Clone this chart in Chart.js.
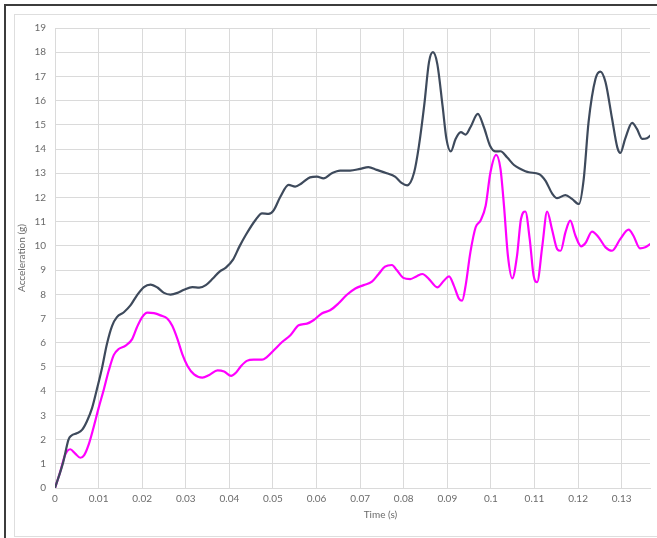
<!DOCTYPE html>
<html lang="en">
<head>
    <meta charset="UTF-8">
    <title>Acceleration vs Time</title>
    <script src="https://cdn.jsdelivr.net/npm/chart.js"></script>
    <style>
        body { margin: 0; background: #fff; }
        #wrap { position: relative; width: 657px; height: 538px; overflow: hidden; }
        #outer { position: absolute; left: 4px; top: 4px; width: 700px; height: 600px;
                 border-left: 2px solid #3c3c3c; border-top: 2px solid #3c3c3c; }
        #inner { position: absolute; left: 14px; top: 14px; width: 700px; height: 521px;
                 border-left: 1px solid #dedede; border-top: 1px solid #dedede; border-bottom: 1px solid #dedede; }
        canvas { position: absolute; left: 0; top: 0; }
    </style>
</head>
<body>
<div id="wrap">
    <div id="outer"></div>
    <div id="inner"></div>
    <canvas id="accChart" width="657" height="538"></canvas>
</div>
<script>
    // dark series (time in s, acceleration in g)
    const darkTime = [0, 0.0019, 0.0031, 0.0038, 0.005, 0.0062, 0.0073, 0.0085, 0.0096, 0.0108,
        0.0119, 0.0131, 0.0142, 0.0158, 0.0173, 0.0188, 0.0204, 0.0219, 0.0235, 0.025,
        0.0265, 0.0281, 0.0296, 0.0315, 0.0331, 0.0346, 0.0362, 0.0377, 0.0392, 0.0408,
        0.0423, 0.0438, 0.046, 0.0475, 0.049, 0.0502, 0.0517, 0.0536, 0.0551, 0.0566,
        0.0585, 0.0601, 0.0616, 0.0635, 0.0654, 0.0677, 0.07, 0.0719, 0.0738, 0.0761,
        0.078, 0.0795, 0.0808, 0.0824, 0.0835, 0.0847, 0.0858, 0.0867, 0.0877, 0.0889,
        0.0898, 0.0908, 0.0919, 0.0931, 0.0942, 0.0953, 0.097, 0.0984, 0.0998, 0.1011,
        0.1022, 0.1037, 0.1053, 0.1068, 0.1087, 0.111, 0.1125, 0.1141, 0.1152, 0.1171,
        0.1186, 0.1202, 0.1213, 0.1224, 0.124, 0.1251, 0.1263, 0.1278, 0.129, 0.1297,
        0.1308, 0.1324, 0.1335, 0.1347, 0.1358, 0.1366];
    const darkAccel = [0, 1.08, 2.0, 2.17, 2.26, 2.4, 2.75, 3.3, 4.07, 4.97,
        5.94, 6.7, 7.06, 7.26, 7.54, 7.96, 8.3, 8.4, 8.28, 8.06,
        7.99, 8.06, 8.19, 8.3, 8.28, 8.38, 8.65, 8.93, 9.1, 9.42,
        9.97, 10.46, 11.07, 11.34, 11.32, 11.48, 12.03, 12.52, 12.45, 12.59,
        12.83, 12.86, 12.79, 13.0, 13.11, 13.11, 13.18, 13.25, 13.14, 13.0,
        12.86, 12.6, 12.5, 13.04, 14.14, 15.8, 17.59, 18.0, 17.52, 15.8,
        14.42, 13.9, 14.42, 14.7, 14.6, 14.9, 15.45, 14.9, 14.14, 13.9,
        13.91, 13.66, 13.34, 13.18, 13.04, 12.97, 12.7, 12.15, 11.97, 12.1,
        11.94, 11.73, 12.77, 15.1, 16.9, 17.2, 16.76, 15.25, 14.07, 13.84,
        14.42, 15.08, 14.83, 14.42, 14.45, 14.56];

    // magenta series
    const pinkTime = [0, 0.0012, 0.0023, 0.0035, 0.0046, 0.0058, 0.0067, 0.0077, 0.0088, 0.01,
        0.0112, 0.0123, 0.0135, 0.0146, 0.0162, 0.0177, 0.0188, 0.02, 0.0212, 0.0227,
        0.0242, 0.0258, 0.0269, 0.0281, 0.0292, 0.0304, 0.0319, 0.0338, 0.0354, 0.0373,
        0.0388, 0.0404, 0.0415, 0.0427, 0.044, 0.0456, 0.0475, 0.0486, 0.0502, 0.0521,
        0.054, 0.0559, 0.0578, 0.0593, 0.0612, 0.0631, 0.065, 0.0669, 0.0689, 0.0708,
        0.0727, 0.0742, 0.0757, 0.0773, 0.0784, 0.0799, 0.0815, 0.083, 0.0843, 0.0858,
        0.0877, 0.0892, 0.0904, 0.0915, 0.0927, 0.0934, 0.0942, 0.0953, 0.0965, 0.0976,
        0.0988, 0.0999, 0.1012, 0.1022, 0.103, 0.1039, 0.1049, 0.106, 0.1069, 0.1079,
        0.1089, 0.1098, 0.1106, 0.1118, 0.1129, 0.114, 0.1152, 0.116, 0.1171, 0.1182,
        0.1194, 0.1207, 0.1217, 0.1232, 0.1247, 0.1263, 0.1278, 0.1297, 0.1316, 0.1327,
        0.1342, 0.1354, 0.1366];
    const pinkAccel = [0, 0.67, 1.36, 1.6, 1.43, 1.25, 1.36, 1.78, 2.47, 3.3,
        4.07, 4.83, 5.5, 5.74, 5.88, 6.15, 6.64, 7.06, 7.24, 7.22,
        7.13, 6.99, 6.7, 6.15, 5.53, 5.04, 4.69, 4.56, 4.67, 4.86,
        4.81, 4.63, 4.76, 5.04, 5.25, 5.3, 5.3, 5.41, 5.69, 6.03,
        6.31, 6.72, 6.79, 6.93, 7.21, 7.34, 7.62, 7.97, 8.24, 8.38,
        8.52, 8.83, 9.14, 9.21, 9.0, 8.68, 8.63, 8.75, 8.84, 8.63,
        8.29, 8.56, 8.74, 8.36, 7.81, 7.74, 8.36, 9.74, 10.77, 11.04,
        11.66, 13.04, 13.76, 13.18, 11.66, 9.6, 8.66, 9.6, 11.11, 11.42,
        10.29, 8.77, 8.5, 10.0, 11.42, 10.7, 9.87, 9.8, 10.56, 11.04,
        10.42, 9.98, 10.12, 10.59, 10.36, 9.94, 9.8, 10.29, 10.67, 10.42,
        9.9, 9.94, 10.08];

    const xTickValues = [0, 0.01, 0.02, 0.03, 0.04, 0.05, 0.06, 0.07, 0.08, 0.09, 0.1, 0.11, 0.12, 0.13];
    const xTitle = 'Time (s)';
    const yTitle = 'Acceleration (g)';

    const toPoints = (xs, ys) => xs.map((x, i) => ({ x: x, y: ys[i] }));
    const textColor = '#6b6b6b';
    const gridColor = '#dadada';
    const font = { family: 'Lato', size: 10 };

    // x axis title sits a little right of the plot centre, like the original
    const xTitlePlugin = {
        id: 'xTitlePlugin',
        afterDraw(chart) {
            const c = chart.ctx;
            const area = chart.chartArea;
            c.save();
            c.font = '10px Lato';
            c.fillStyle = textColor;
            c.textAlign = 'center';
            c.textBaseline = 'middle';
            c.fillText(xTitle, area.left + (area.right - area.left) * 0.547, 515);
            c.restore();
        }
    };

    new Chart(document.getElementById('accChart'), {
        type: 'line',
        data: {
            datasets: [
                {
                    label: 'Dark',
                    data: toPoints(darkTime, darkAccel),
                    borderColor: '#3e4a5c',
                    borderWidth: 2.2,
                    pointRadius: 0,
                    cubicInterpolationMode: 'monotone'
                },
                {
                    label: 'Magenta',
                    data: toPoints(pinkTime, pinkAccel),
                    borderColor: '#ff00ff',
                    borderWidth: 2.2,
                    pointRadius: 0,
                    cubicInterpolationMode: 'monotone'
                }
            ]
        },
        options: {
            responsive: false,
            animation: false,
            devicePixelRatio: 1,
            layout: { padding: { left: 14, top: 28, right: 7, bottom: 2 } },
            plugins: {
                legend: { display: false },
                tooltip: { enabled: false }
            },
            scales: {
                x: {
                    type: 'linear',
                    min: 0,
                    max: 0.1365,
                    afterBuildTicks: scale => {
                        scale.ticks = xTickValues.map(v => ({ value: v }));
                    },
                    afterFit: scale => { scale.height = 48; },
                    ticks: {
                        color: textColor,
                        font: font,
                        padding: 5,
                        maxRotation: 0,
                        autoSkip: false,
                        callback: v => String(+v.toFixed(2))
                    },
                    grid: { color: gridColor, drawTicks: false },
                    border: { color: gridColor }
                },
                y: {
                    min: 0,
                    max: 19,
                    afterFit: scale => { scale.width = 41; },
                    ticks: {
                        stepSize: 1,
                        color: textColor,
                        font: font,
                        padding: 9
                    },
                    grid: { color: gridColor, drawTicks: false },
                    border: { color: gridColor },
                    title: {
                        display: true,
                        text: yTitle,
                        color: textColor,
                        font: font,
                        padding: { top: 2, bottom: 0 }
                    }
                }
            }
        },
        plugins: [xTitlePlugin]
    });
</script>
</body>
</html>
